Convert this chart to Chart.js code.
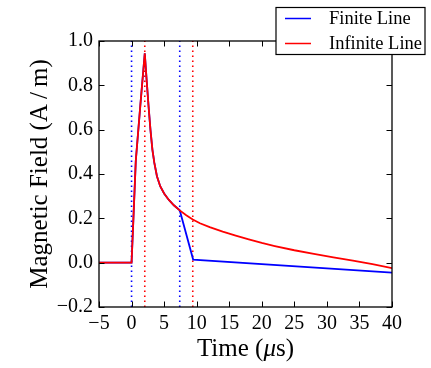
<!DOCTYPE html>
<html>
<head>
<meta charset="utf-8">
<script src="https://cdn.jsdelivr.net/npm/chart.js@4.4.0/dist/chart.umd.min.js"></script>
<style>
html,body{margin:0;padding:0;background:#ffffff;}
#wrap{width:431px;height:368px;position:relative;}
</style>
</head>
<body>
<div id="wrap"><canvas id="chart" width="431" height="368"></canvas></div>
<script>
// ---- data ----
const seriesNames = ['Finite Line', 'Infinite Line'];

const finiteTime  = [-5, 0, 0.3, 0.65, 1.0, 1.35, 2.03, 2.3, 2.6, 2.9, 3.2, 3.5, 3.9, 4.4, 5.0, 5.7, 6.5, 7.4, 9.46, 40];
const finiteField = [0, 0, 0.21, 0.46, 0.585, 0.71, 0.944, 0.83, 0.71, 0.60, 0.51, 0.45, 0.39, 0.345, 0.312, 0.284, 0.259, 0.236, 0.014, -0.045];

const infiniteTime  = [-5, 0, 0.3, 0.65, 1.0, 1.35, 2.03, 2.3, 2.6, 2.9, 3.2, 3.5, 3.9, 4.4, 5.0, 5.7, 6.5, 7.4, 8.4, 9.4, 10.5, 12, 14, 16, 18, 20, 22, 25, 28, 31, 34, 37, 40];
const infiniteField = [0, 0, 0.21, 0.46, 0.585, 0.71, 0.944, 0.83, 0.71, 0.60, 0.51, 0.45, 0.39, 0.345, 0.312, 0.284, 0.259, 0.236, 0.214, 0.195, 0.178, 0.160, 0.140, 0.122, 0.105, 0.089, 0.075, 0.056, 0.040, 0.024, 0.009, -0.007, -0.025];

const finiteMarkers   = [0, 7.4];
const infiniteMarkers = [2.03, 9.4];

const xTicks = [-5, 0, 5, 10, 15, 20, 25, 30, 35, 40];
const yTicks = [-0.2, 0.0, 0.2, 0.4, 0.6, 0.8, 1.0];

const xTitleParts = [['Time (', false], ['\u03bc', true], ['s)', false]];
const yTitle = 'Magnetic Field (A\u2009/\u2009m)';

// ---- styling ----
const BLUE = '#0000ff', RED = '#ff0000';
const SERIF = '"Liberation Serif", "Times New Roman", serif';
const xMin = xTicks[0], xMax = xTicks[xTicks.length - 1];
const yMin = yTicks[0], yMax = yTicks[yTicks.length - 1];

function pts(xs, ys) { return xs.map((x, i) => ({x: x, y: ys[i]})); }
function markerSet(t, color) {
  return {
    label: 'marker', data: [{x: t, y: yMin}, {x: t, y: yMax}],
    borderColor: color, borderWidth: 1.6, borderDash: [1.6, 3.4],
    pointRadius: 0, tension: 0, order: 3, inLegend: false
  };
}
const minus = s => String(s).replace('-', '\u2212');

const datasets = [
  {label: seriesNames[0], data: pts(finiteTime, finiteField), borderColor: BLUE, backgroundColor: BLUE,
   borderWidth: 1.8, pointRadius: 0, tension: 0, order: 1, inLegend: true},
  {label: seriesNames[1], data: pts(infiniteTime, infiniteField), borderColor: RED, backgroundColor: RED,
   borderWidth: 1.8, pointRadius: 0, tension: 0, order: 0, inLegend: true}
].concat(finiteMarkers.map(t => markerSet(t, BLUE)), infiniteMarkers.map(t => markerSet(t, RED)));

const framePlugin = {
  id: 'frame',
  afterDraw(chart) {
    const ctx = chart.ctx, a = chart.chartArea;
    const xs = chart.scales.x, ys = chart.scales.y;
    ctx.save();
    // frame
    ctx.strokeStyle = '#000'; ctx.lineWidth = 1.3;
    ctx.strokeRect(a.left, a.top, a.right - a.left, a.bottom - a.top);
    // inward ticks on all sides
    const L = 5.5;
    ctx.lineWidth = 1;
    ctx.beginPath();
    xTicks.forEach(v => {
      const p = Math.round(xs.getPixelForValue(v)) + 0.5;
      ctx.moveTo(p, a.bottom); ctx.lineTo(p, a.bottom - L);
      ctx.moveTo(p, a.top); ctx.lineTo(p, a.top + L);
    });
    yTicks.forEach(v => {
      const p = Math.round(ys.getPixelForValue(v)) + 0.5;
      ctx.moveTo(a.left, p); ctx.lineTo(a.left + L, p);
      ctx.moveTo(a.right, p); ctx.lineTo(a.right - L, p);
    });
    ctx.stroke();

    // axis titles
    ctx.fillStyle = '#000';
    ctx.textBaseline = 'alphabetic';
    const cx = (a.left + a.right) / 2;
    const fN = '25px ' + SERIF, fI = 'italic 25px ' + SERIF;
    let total = 0;
    xTitleParts.forEach(p => { ctx.font = p[1] ? fI : fN; total += ctx.measureText(p[0]).width; });
    let x = cx - total / 2;
    ctx.textAlign = 'left';
    xTitleParts.forEach(p => { ctx.font = p[1] ? fI : fN; ctx.fillText(p[0], x, 356); x += ctx.measureText(p[0]).width; });

    ctx.save();
    ctx.translate(46.5, (a.top + a.bottom) / 2);
    ctx.rotate(-Math.PI / 2);
    ctx.textAlign = 'center';
    ctx.font = fN;
    ctx.fillText(yTitle, 0, 0);
    ctx.restore();

    // legend box (outside the axes, top right)
    const items = chart.data.datasets.filter(d => d.inLegend);
    const bx = 276, by = 7.5, bw = 149, bh = 47;
    ctx.fillStyle = '#fff';
    ctx.fillRect(bx, by, bw, bh);
    ctx.strokeStyle = '#000'; ctx.lineWidth = 1.2;
    ctx.strokeRect(bx, by, bw, bh);
    ctx.font = '18.5px ' + SERIF;
    ctx.textAlign = 'left';
    ctx.textBaseline = 'middle';
    items.forEach((d, i) => {
      const yy = 18.5 + i * 25;
      ctx.strokeStyle = d.borderColor; ctx.lineWidth = 1.5;
      ctx.beginPath(); ctx.moveTo(285, yy); ctx.lineTo(311, yy); ctx.stroke();
      ctx.fillStyle = '#000';
      ctx.fillText(d.label, 329, yy + 1);
    });
    ctx.restore();
  }
};

new Chart(document.getElementById('chart'), {
  type: 'line',
  data: {datasets: datasets},
  options: {
    responsive: false,
    animation: false,
    devicePixelRatio: 1,
    layout: {padding: {top: 41, right: 39, left: 0, bottom: 0}},
    plugins: {legend: {display: false}, tooltip: {enabled: false}},
    scales: {
      x: {
        type: 'linear', min: xMin, max: xMax,
        afterBuildTicks: s => { s.ticks = xTicks.map(v => ({value: v})); },
        afterFit: s => { s.height = 61; },
        grid: {display: false, drawTicks: false},
        border: {display: false},
        ticks: {color: '#000', font: {family: SERIF, size: 20}, padding: 5, maxRotation: 0, autoSkip: false,
                callback: v => minus(v)}
      },
      y: {
        type: 'linear', min: yMin, max: yMax,
        afterBuildTicks: s => { s.ticks = yTicks.map(v => ({value: v})); },
        afterFit: s => { s.width = 99; },
        grid: {display: false, drawTicks: false},
        border: {display: false},
        ticks: {color: '#000', font: {family: SERIF, size: 20}, padding: 6, autoSkip: false,
                callback: v => minus(Number(v).toFixed(1))}
      }
    }
  },
  plugins: [framePlugin]
});
</script>
</body>
</html>
